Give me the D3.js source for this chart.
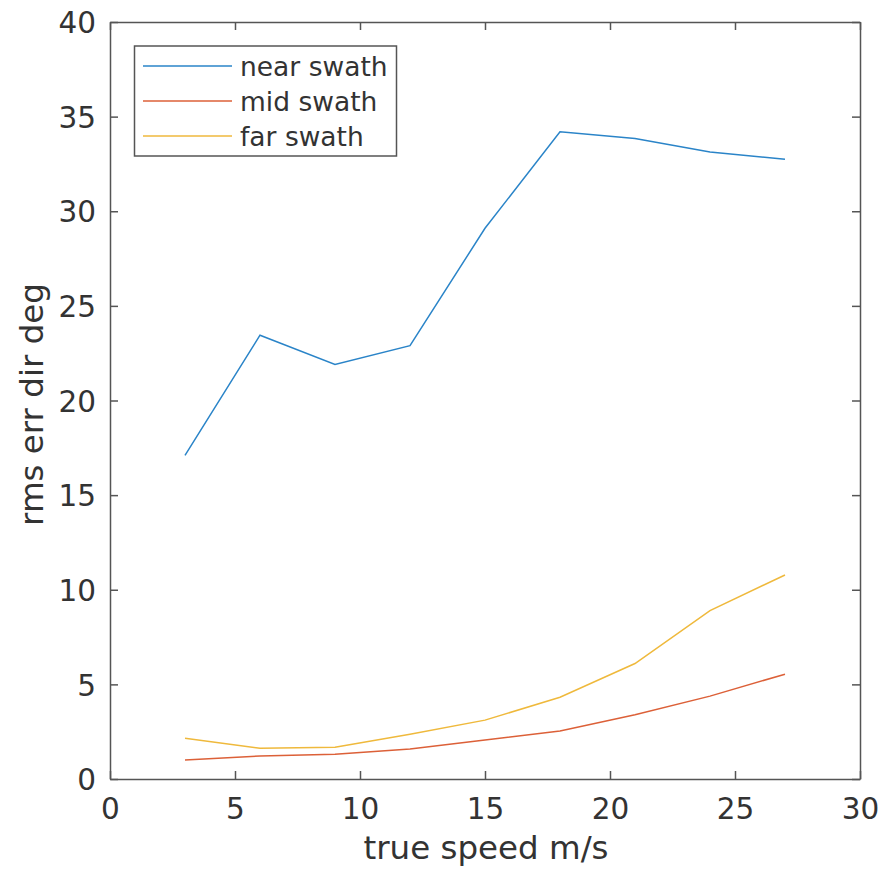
<!DOCTYPE html>
<html>
<head>
<meta charset="utf-8">
<script src="https://cdn.jsdelivr.net/npm/d3@7"></script>
<style>
  html, body { margin: 0; padding: 0; background: #fff; }
  svg { display: block; font-family: "DejaVu Sans", sans-serif; }
</style>
</head>
<body>
<svg id="chart" width="885" height="869"></svg>
<script>
// True wind speed (m/s) at which errors were evaluated
const speeds = [3, 6, 9, 12, 15, 18, 21, 24, 27];

// RMS direction error (deg) per swath region
const nearSwath = [17.1, 23.45, 21.9, 22.9, 29.1, 34.2, 33.85, 33.13, 32.75];
const midSwath  = [1.0, 1.22, 1.31, 1.58, 2.06, 2.54, 3.4, 4.38, 5.54];
const farSwath  = [2.15, 1.62, 1.68, 2.37, 3.11, 4.32, 6.1, 8.9, 10.78];

const seriesNames  = ["near swath", "mid swath", "far swath"];
const seriesColors = ["#2a84c8", "#dc6038", "#efb93c"];

const xTicks = [0, 5, 10, 15, 20, 25, 30];
const yTicks = [0, 5, 10, 15, 20, 25, 30, 35, 40];

const svg = d3.select("#chart");
const plotLeft = 110, plotRight = 860, plotTop = 22, plotBottom = 779;
const axisColor = "#555555";
const textColor = "#333333";
const tickFont = 29.5, labelFont = 32.5, legendFont = 26.5;

const x = d3.scaleLinear().domain([0, 30]).range([plotLeft, plotRight]);
const y = d3.scaleLinear().domain([0, 40]).range([plotBottom, plotTop]);

const tickLen = 8;

// Axes with inward ticks on all four sides
const gx = svg.append("g").attr("transform", `translate(0,${plotBottom})`)
  .call(d3.axisBottom(x).tickValues(xTicks).tickSizeInner(-tickLen).tickSizeOuter(0).tickPadding(19));
const gxTop = svg.append("g").attr("transform", `translate(0,${plotTop})`)
  .call(d3.axisTop(x).tickValues(xTicks).tickSizeInner(-tickLen).tickSizeOuter(0).tickFormat(""));
const gy = svg.append("g").attr("transform", `translate(${plotLeft},0)`)
  .call(d3.axisLeft(y).tickValues(yTicks).tickSizeInner(-tickLen).tickSizeOuter(0).tickPadding(14));
const gyRight = svg.append("g").attr("transform", `translate(${plotRight},0)`)
  .call(d3.axisRight(y).tickValues(yTicks).tickSizeInner(-tickLen).tickSizeOuter(0).tickFormat(""));

[gx, gxTop, gy, gyRight].forEach(g => {
  g.select(".domain").attr("stroke", axisColor).attr("stroke-width", 1.5);
  g.selectAll(".tick line").attr("stroke", axisColor).attr("stroke-width", 1.5);
  g.selectAll(".tick text").attr("fill", textColor)
    .style("font-family", "DejaVu Sans, sans-serif").style("font-size", tickFont + "px");
});
gx.selectAll(".tick text").attr("dy", "0.71em");
gy.selectAll(".tick text").attr("dy", "0.36em");

// Axis titles
svg.append("text")
  .attr("x", (plotLeft + plotRight) / 2 + 1).attr("y", 859)
  .attr("text-anchor", "middle").attr("fill", textColor)
  .style("font-size", labelFont + "px")
  .text("true speed m/s");

svg.append("text")
  .attr("transform", `translate(43,${(plotTop + plotBottom) / 2 + 4}) rotate(-90)`)
  .attr("text-anchor", "middle").attr("fill", textColor)
  .style("font-size", labelFont + "px")
  .text("rms err dir deg");

// Data lines
const line = d3.line().x(d => x(d[0])).y(d => y(d[1]));
const allSeries = [nearSwath, midSwath, farSwath];
allSeries.forEach((vals, i) => {
  svg.append("path")
    .datum(speeds.map((s, j) => [s, vals[j]]))
    .attr("fill", "none")
    .attr("stroke", seriesColors[i])
    .attr("stroke-width", 1.5)
    .attr("d", line);
});

// Legend
const legend = svg.append("g");
legend.append("rect")
  .attr("x", 134.5).attr("y", 46).attr("width", 262).attr("height", 110)
  .attr("fill", "#fff").attr("stroke", axisColor).attr("stroke-width", 1.5);
seriesNames.forEach((name, i) => {
  const ly = 66 + i * 35;
  legend.append("line")
    .attr("x1", 143).attr("x2", 232).attr("y1", ly).attr("y2", ly)
    .attr("stroke", seriesColors[i]).attr("stroke-width", 1.5);
  legend.append("text")
    .attr("x", 240).attr("y", ly).attr("dy", "0.36em")
    .attr("fill", textColor).style("font-size", legendFont + "px")
    .text(name);
});
</script>
</body>
</html>
